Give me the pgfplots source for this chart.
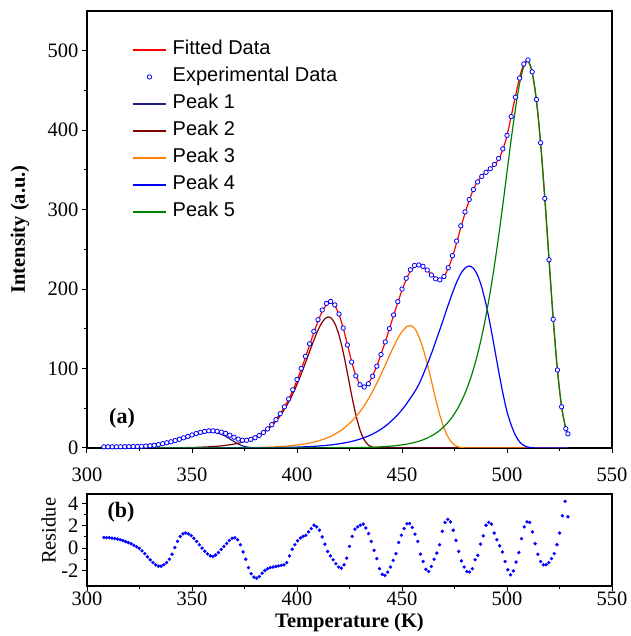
\documentclass[border=0pt]{standalone}
\usepackage{fontspec}
\setmainfont{Liberation Serif}
\newfontfamily\legfont{Liberation Sans}
\usepackage{pgfplots}
\usepackage{pgfplotstable}
\pgfplotsset{compat=1.18}
\definecolor{peakone}{RGB}{31,31,140}
\definecolor{peaktwo}{RGB}{128,0,0}
\definecolor{peakthree}{RGB}{255,128,0}
\definecolor{peakfour}{RGB}{0,0,255}
\definecolor{peakfive}{RGB}{0,128,0}

\pgfplotstableread{
T fit exp
308 0.33 1.5
310 0.41 1.5
312 0.50 1.5
314 0.61 1.5
316 0.75 1.6
318 0.92 1.6
320 1.11 1.7
322 1.35 1.8
324 1.64 1.9
326 1.99 2.1
328 2.42 2.4
330 2.92 2.8
332 3.54 3.4
334 4.26 4.3
336 5.12 5.4
338 6.12 6.6
340 7.25 7.9
342 8.57 9.4
344 10.07 11.0
346 11.73 12.8
348 13.52 14.6
350 15.39 16.4
352 17.25 18.2
354 18.99 19.7
356 20.43 20.9
358 21.39 21.6
360 21.84 21.6
362 21.39 21.0
364 20.11 19.9
366 18.13 18.4
368 15.71 16.1
370 13.31 13.6
372 11.56 11.2
374 10.63 9.8
376 10.80 9.7
378 12.03 10.8
380 14.17 12.9
382 17.02 15.8
384 20.58 19.5
386 24.85 24.0
388 29.93 29.4
390 35.98 35.7
392 43.12 43.2
394 51.49 51.8
396 61.20 61.8
398 72.32 73.3
400 84.96 86.2
402 98.86 100.2
404 113.9 115.4
406 129.5 131.1
408 145.1 146.8
410 159.7 161.5
412 171.7 173.7
414 180.0 182.0
416 182.8 184.4
418 179.0 180.1
420 168.0 168.6
422 151.1 151.0
424 130.2 129.7
426 108.9 108.2
428 91.3 90.7
430 80.3 79.7
432 77.4 76.8
434 81.5 80.9
436 90.9 90.4
438 103.4 103.0
440 117.8 117.6
442 133.4 133.5
444 149.9 150.3
446 166.8 167.5
448 183.1 184.2
450 198.6 200.0
452 212.0 213.6
454 222.6 224.3
456 228.1 229.8
458 228.9 230.4
460 227.7 228.6
462 223.9 224.0
464 218.5 217.7
466 214.1 212.9
468 212.6 211.6
470 216.1 215.8
472 226.1 226.9
474 240.4 242.1
476 258.3 260.5
478 277.4 279.6
480 295.4 297.2
482 311.7 312.7
484 325.2 325.3
486 335.5 334.9
488 342.8 341.8
490 347.7 346.9
492 351.5 351.4
494 356.1 356.9
496 363.3 364.5
498 375.4 376.5
500 393.0 393.5
502 417.5 417.1
504 442.6 441.5
506 466.5 465.6
508 483.4 483.3
510 487.8 488.4
512 472.5 473.4
514 437.8 438.6
516 383.8 384.2
518 314.3 314.1
520 237.5 236.9
522 162.6 162.0
524 98.5 98.2
526 51.8 51.9
528 24.0 24.3
529 17.0 17.8
}\maindata

\pgfplotstableread{
T r
308 0.95
309.3 0.94
310.6 0.93
311.9 0.90
313.2 0.86
314.5 0.81
315.8 0.75
317.1 0.67
318.4 0.58
319.7 0.49
321 0.38
322.3 0.25
323.6 0.12
324.9 -0.02
326.2 -0.25
327.5 -0.5
328.8 -0.78
330.1 -1.05
331.4 -1.3
332.7 -1.5
334 -1.62
335.3 -1.62
336.6 -1.5
337.9 -1.3
339.2 -1.0
340.5 -0.55
341.8 0.05
343.1 0.6
344.4 1.04
345.7 1.28
347 1.35
348.3 1.28
349.6 1.12
350.9 0.88
352.2 0.6
353.5 0.3
354.8 0.0
356.1 -0.28
357.4 -0.52
358.7 -0.69
360 -0.75
361.3 -0.62
362.6 -0.4
363.9 -0.12
365.2 0.15
366.5 0.42
367.8 0.68
369.1 0.88
370.4 0.92
371.7 0.75
373 0.3
374.3 -0.35
375.6 -1.0
376.9 -1.75
378.2 -2.3
379.5 -2.6
380.8 -2.7
382.1 -2.55
383.4 -2.25
384.7 -2.0
386 -1.85
387.3 -1.75
388.6 -1.7
389.9 -1.65
391.2 -1.6
392.5 -1.55
393.8 -1.5
395.1 -1.3
396.4 -0.7
397.7 -0.1
399 0.3
400.3 0.65
401.6 0.9
402.9 1.05
404.2 1.15
405.5 1.45
406.8 1.75
408.1 2.05
409.4 1.9
410.7 1.6
412 1.0
413.3 0.35
414.6 -0.3
415.9 -0.7
417.2 -1.05
418.5 -1.4
419.8 -1.7
421.1 -1.8
422.4 -1.5
423.7 -0.9
425 0.15
426.3 1.05
427.6 1.7
428.9 1.9
430.2 2.05
431.5 2.15
432.8 1.8
434.1 1.3
435.4 0.6
436.7 -0.2
438 -0.95
439.3 -1.85
440.6 -2.35
441.9 -2.45
443.2 -2.15
444.5 -1.7
445.8 -1.1
447.1 -0.5
448.4 0.5
449.7 1.15
451 1.75
452.3 2.18
453.6 2.2
454.9 1.85
456.2 1.25
457.5 0.6
458.8 -0.55
460.1 -1.2
461.4 -1.9
462.7 -2.1
464 -1.65
465.3 -1.0
466.6 -0.45
467.9 0.3
469.2 1.5
470.5 2.3
471.8 2.58
473.1 2.35
474.4 1.6
475.7 0.7
477 -0.3
478.3 -1.15
479.6 -1.7
480.9 -2.1
482.2 -2.15
483.5 -1.85
484.8 -1.05
486.1 -0.65
487.4 0.35
488.7 1.1
490 2.05
491.3 2.3
492.6 2.15
493.9 1.35
495.2 0.75
496.5 0.2
497.8 -0.35
499.1 -1.2
500.4 -1.95
501.7 -2.4
503 -2.05
504.3 -1.25
505.6 -0.4
506.9 0.85
508.2 1.9
509.5 2.35
510.8 2.3
512.1 1.45
513.4 0.4
514.7 -0.55
516 -1.2
517.3 -1.5
518.6 -1.5
519.9 -1.3
521.2 -0.95
522.5 -0.5
523.8 0.3
525.1 1.35
526.4 2.9
527.7 4.2
529 2.8
}\resdata

\begin{document}
\begin{tikzpicture}
\path[use as bounding box] (-87pt,-188pt) rectangle (543pt,448pt);
\pgfplotsset{
  every axis/.append style={
    scale only axis, width=525pt,
    xmin=300, xmax=550,
    axis line style={line width=1.1pt},
    tick align=outside, tick pos=left,
    major tick length=5pt, minor tick length=3pt,
    every tick/.append style={black, line width=1pt},
    xtick={300,350,...,550}, minor x tick num=1,
    tick label style={font=\fontsize{20.5}{24}\selectfont},
    /pgf/number format/assume math mode=true,
    label style={font=\fontsize{20.5}{24}\selectfont},
  }
}
\begin{axis}[
  at={(0pt,0pt)}, anchor=south west, height=437pt,
  ymin=0, ymax=550, ytick={0,100,...,500}, minor y tick num=1,
  xticklabel style={yshift=-11pt},
  ylabel={\textbf{Intensity (a.u.)}},
  ylabel style={at={(axis description cs:-0.1276,0.5)}, anchor=center},
  legend style={draw=none, fill=none, inner sep=0pt, at={(axis description cs:0.0857,0.9366)}, anchor=north west,
    font=\legfont\fontsize{20}{24}\selectfont, row sep=5pt, column sep=4.5pt,
    nodes={inner sep=1.5pt, text height=14.5pt, text depth=4.5pt}},
  legend cell align=left,
  legend image code/.code={\draw[mark repeat=2,mark phase=2,line width=1.5pt] plot coordinates {(0pt,0pt) (16.5pt,0pt) (33pt,0pt)};},
]
\addplot[red, line width=1.2pt, smooth] table[x=T,y=fit]{\maindata};
\addlegendentry{Fitted Data}
\addplot[only marks, mark=*, mark size=2.2pt, blue, mark options={draw=blue, fill=white, line width=0.8pt}] table[x=T,y=exp]{\maindata};
\addlegendentry{Experimental Data}
\addplot[peakone, line width=1.2pt, smooth] coordinates {
(308,0.33) (310,0.40) (312,0.49) (314,0.60) (316,0.73) (318,0.89) (320,1.08) (322,1.31) (324,1.59) (326,1.93) (328,2.34) (330,2.83) (332,3.42) (334,4.11) (336,4.93) (338,5.89) (340,7.00) (342,8.27) (344,9.70) (346,11.28) (348,12.97) (350,14.72) (352,16.43) (354,17.98) (356,19.20) (358,19.90) (360,19.90) (362,19.03) (364,17.24) (366,14.61) (368,11.43) (370,8.10) (372,5.09) (374,2.76) (376,1.25) (378,0.45) (380,0.13) (382,0.03) (384,0) (529,0)};
\addlegendentry{Peak 1}
\addplot[peaktwo, line width=1.2pt, smooth] coordinates {
(308,0) (340,0.24) (344,0.37) (346,0.45) (348,0.55) (350,0.67) (352,0.82) (354,1.01) (356,1.23) (358,1.49) (360,1.83) (362,2.23) (364,2.71) (366,3.32) (368,4.04) (370,4.93) (372,6.00) (374,7.31) (376,8.89) (378,10.81) (380,13.14) (382,15.94) (384,19.31) (386,23.36) (388,28.18) (390,33.90) (392,40.66) (394,48.58) (396,57.75) (398,68.24) (400,80.03) (402,93.04) (404,107.0) (406,121.4) (408,135.5) (410,148.3) (412,158.3) (414,164.2) (416,164.1) (418,156.9) (420,142.1) (422,120.5) (424,94.3) (426,66.8) (428,42.0) (430,22.7) (432,10.3) (434,3.75) (436,1.04) (438,0.21) (440,0.03) (442,0) (529,0)};
\addlegendentry{Peak 2}
\addplot[peakthree, line width=1.2pt, smooth] coordinates {
(308,0) (360,0.11) (364,0.16) (368,0.24) (372,0.32) (376,0.46) (380,0.65) (382,0.77) (384,0.92) (386,1.09) (388,1.30) (390,1.55) (392,1.84) (394,2.19) (396,2.61) (398,3.11) (400,3.70) (402,4.40) (404,5.24) (406,6.23) (408,7.40) (410,8.79) (412,10.43) (414,12.37) (416,14.65) (418,17.35) (420,20.50) (422,24.21) (424,28.50) (426,33.47) (428,39.25) (430,45.83) (432,53.37) (434,61.80) (436,71.24) (438,81.52) (440,92.58) (442,104.2) (444,116.0) (446,127.5) (448,137.9) (450,146.5) (452,152.2) (454,154.0) (456,150.5) (458,140.5) (460,125.5) (462,106.5) (464,84.5) (466,62.0) (468,41.5) (470,25.0) (472,13.5) (474,6.0) (476,2.3) (478,0.7) (480,0.15) (482,0) (529,0)};
\addlegendentry{Peak 3}
\addplot[peakfour, line width=1.2pt, smooth] coordinates {
(308,0) (380,0.25) (384,0.35) (388,0.45) (392,0.62) (396,0.84) (400,1.13) (402,1.32) (404,1.54) (406,1.79) (408,2.09) (410,2.44) (412,2.84) (414,3.31) (416,3.86) (418,4.50) (420,5.24) (422,6.10) (424,7.10) (426,8.27) (428,9.62) (430,11.20) (432,13.02) (434,15.13) (436,17.58) (438,20.39) (440,23.65) (442,27.40) (444,31.72) (446,36.67) (448,42.0) (450,48.2) (452,55.0) (454,62.8) (456,70.6) (458,79.9) (460,91.9) (462,104.9) (464,118.8) (466,133.7) (468,148.8) (470,164.2) (472,180.0) (474,195.0) (476,208.5) (478,219.4) (480,226.4) (482,229.0) (484,226.2) (486,217.2) (488,202.1) (490,181.0) (492,155.3) (494,126.5) (496,97.0) (498,69.4) (500,45.8) (502,29.0) (504,16.0) (506,7.8) (508,3.2) (510,1.1) (512,0.3) (514,0.06) (516,0) (529,0)};
\addlegendentry{Peak 4}
\addplot[peakfive, line width=1.2pt, smooth] coordinates {
(308,0) (420,0.2) (424,0.3) (428,0.45) (432,0.68) (436,1.01) (440,1.49) (442,1.81) (444,2.19) (446,2.66) (448,3.23) (450,3.92) (452,4.76) (454,5.77) (456,7.01) (458,8.51) (460,10.32) (462,12.51) (464,15.16) (466,18.37) (468,22.25) (470,26.93) (472,32.58) (474,39.36) (476,47.52) (478,57.26) (480,68.88) (482,82.74) (484,99.03) (486,118.3) (488,140.7) (490,166.7) (492,196.2) (494,229.6) (496,266.3) (498,306.0) (500,347.2) (502,388.5) (504,426.6) (506,458.7) (508,480.2) (510,486.7) (512,472.2) (514,437.7) (516,383.8) (518,314.3) (520,237.5) (522,162.6) (524,98.5) (526,51.8) (528,24.0) (529,17.0)};
\addlegendentry{Peak 5}
\node[font=\bfseries\fontsize{22}{26}\selectfont] at (axis cs:316.7,37.8) {(a)};
\end{axis}
\begin{axis}[
  at={(0pt,-46pt)}, anchor=north west, height=92pt,
  ymin=-3.4, ymax=4.85, ytick={-2,0,2,4}, minor y tick num=1,
  xticklabel style={yshift=3pt},
  xlabel={\textbf{Temperature (K)}},
  xlabel style={at={(axis description cs:0.5,0)}, anchor=center, yshift=-37pt},
  ylabel={Residue},
  ylabel style={at={(axis description cs:-0.0733,0.6)}, anchor=center},
]
\addplot[only marks, mark=*, mark size=1.5pt, blue, mark options={draw=blue, fill=blue}] table[x=T,y=r]{\resdata};
\node[font=\bfseries\fontsize{22}{26}\selectfont] at (axis cs:316.2,3.2) {(b)};
\end{axis}
\end{tikzpicture}
\end{document}
